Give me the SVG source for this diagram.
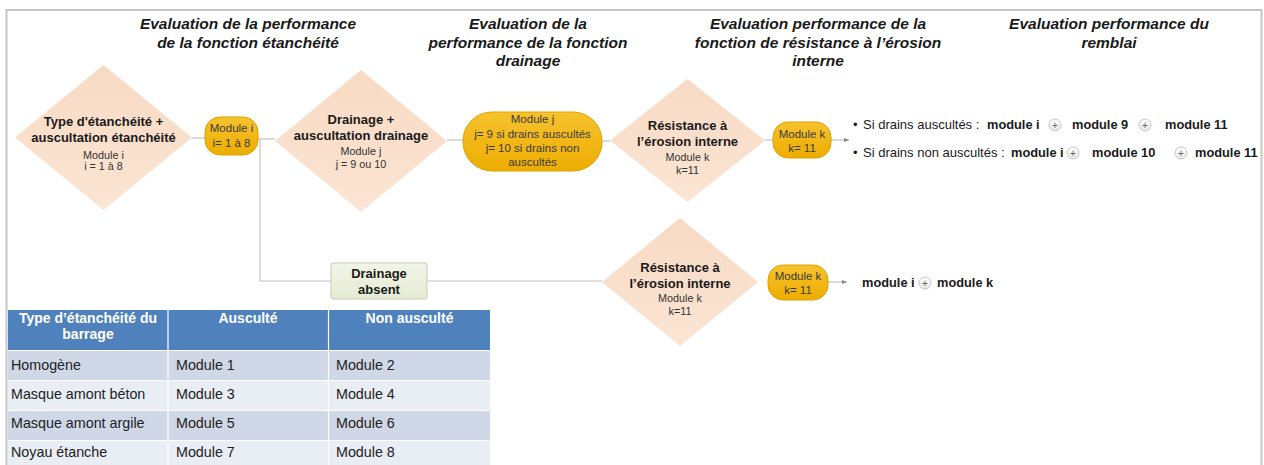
<svg xmlns="http://www.w3.org/2000/svg" width="1264" height="465" viewBox="0 0 1264 465">
<defs>
<style>
text{font-family:"Liberation Sans",Arial,sans-serif;}
.title{font-size:15.5px;font-weight:bold;font-style:italic;fill:#1a1a1a;text-anchor:middle;}
.db{font-size:13px;font-weight:bold;fill:#1a1a1a;text-anchor:middle;}
.ds{font-size:10.8px;fill:#333;text-anchor:middle;}
.mt{font-size:11.5px;fill:#3a3a3a;text-anchor:middle;}
.diamond{fill:url(#peach);}
.mod{fill:url(#gold);stroke:#DCA200;stroke-width:1;}
.conn{stroke:#C4C4C4;stroke-width:1.2;fill:none;}
.res{font-size:13px;fill:#1a1a1a;}
.rb{font-size:12.8px;font-weight:bold;fill:#1a1a1a;}
.plus{fill:url(#pl);stroke:#C8C8C8;stroke-width:1;}
.pt{font-size:10px;fill:#666;text-anchor:middle;}
.th{font-size:14px;font-weight:bold;fill:#fff;text-anchor:middle;}
.td{font-size:14.3px;fill:#222;}
</style>
<linearGradient id="peach" x1="0" y1="0" x2="0" y2="1"><stop offset="0" stop-color="#F8DAC3"/><stop offset="1" stop-color="#FBE5D4"/></linearGradient>
<linearGradient id="gold" x1="0" y1="0" x2="0" y2="1"><stop offset="0" stop-color="#F6C22E"/><stop offset="1" stop-color="#EDAD00"/></linearGradient>
<linearGradient id="green" x1="0" y1="0" x2="0" y2="1"><stop offset="0" stop-color="#F2F5E8"/><stop offset="1" stop-color="#E4EBD3"/></linearGradient>
<linearGradient id="pl" x1="0" y1="0" x2="0" y2="1"><stop offset="0" stop-color="#FFFFFF"/><stop offset="1" stop-color="#E6E6E6"/></linearGradient>
<marker id="arr" markerWidth="6" markerHeight="6" refX="5" refY="3" orient="auto" markerUnits="userSpaceOnUse"><path d="M0,1 L5,3 L0,5 Z" fill="#888"/></marker>
</defs>
<rect x="0" y="0" width="1264" height="465" fill="#fff"/>
<rect id="frame" x="6.5" y="10" width="1255" height="470" fill="none" stroke="#C6C6C6" stroke-width="2"/>

<g id="titles">
<text class="title" x="248" y="29">Evaluation de la performance</text>
<text class="title" x="248" y="47.5">de la fonction étanchéité</text>
<text class="title" x="528" y="29">Evaluation de la</text>
<text class="title" x="528" y="47.5">performance de la fonction</text>
<text class="title" x="528" y="66">drainage</text>
<text class="title" x="818" y="29">Evaluation performance de la</text>
<text class="title" x="818" y="47.5">fonction de résistance à l’érosion</text>
<text class="title" x="818" y="66">interne</text>
<text class="title" x="1109" y="29">Evaluation performance du</text>
<text class="title" x="1109" y="47.5">remblai</text>
</g>

<g id="connectors">
<line class="conn" x1="192" y1="138" x2="205" y2="138"/>
<line class="conn" x1="258" y1="139" x2="275" y2="139"/>
<line class="conn" x1="447" y1="140" x2="463" y2="140"/>
<line class="conn" x1="602" y1="141" x2="610" y2="141"/>
<line class="conn" x1="765" y1="140" x2="773" y2="140"/>
<polyline class="conn" points="260,139 260,281 331,281"/>
<line class="conn" x1="427" y1="281" x2="602" y2="281"/>
<line class="conn" x1="831" y1="140" x2="849" y2="140" marker-end="url(#arr)"/>
<line class="conn" x1="828" y1="282" x2="847" y2="282" marker-end="url(#arr)"/>
</g>

<g id="d1">
<polygon class="diamond" points="103.5,65 192,137.5 103.5,210 15,137.5"/>
<text class="db" x="103.5" y="126">Type d'étanchéité +</text>
<text class="db" x="103.5" y="142">auscultation étanchéité</text>
<text class="ds" x="103.5" y="159">Module i</text>
<text class="ds" x="103.5" y="170">i = 1 à 8</text>
</g>

<g id="modi">
<rect class="mod" x="205" y="117" width="53" height="38" rx="15"/>
<text class="mt" x="231.5" y="132">Module i</text>
<text class="mt" x="231.5" y="146.5">i= 1 à 8</text>
</g>

<g id="d2">
<polygon class="diamond" points="361,70 447,141 361,212 275,141"/>
<text class="db" x="361" y="123.5">Drainage +</text>
<text class="db" x="361" y="140">auscultation drainage</text>
<text class="ds" x="361" y="155">Module j</text>
<text class="ds" x="361" y="167.5">j = 9 ou 10</text>
</g>

<g id="modj">
<rect class="mod" x="463" y="112" width="139" height="59" rx="29"/>
<text class="mt" x="532.5" y="123">Module j</text>
<text class="mt" x="532.5" y="138">j= 9 si drains auscultés</text>
<text class="mt" x="532.5" y="152">j= 10 si drains non</text>
<text class="mt" x="532.5" y="166">auscultés</text>
</g>

<g id="d3">
<polygon class="diamond" points="687.5,79 765,140.5 687.5,202 610,140.5"/>
<text class="db" x="687.5" y="130">Résistance à</text>
<text class="db" x="687.5" y="146">l’érosion interne</text>
<text class="ds" x="687.5" y="160.5">Module k</text>
<text class="ds" x="687.5" y="173.5">k=11</text>
</g>

<g id="modk1">
<rect class="mod" x="773" y="122" width="58" height="36" rx="15"/>
<text class="mt" x="802" y="138">Module k</text>
<text class="mt" x="802" y="151.5">k= 11</text>
</g>

<g id="result1">
<text class="res" x="853" y="129">•</text>
<text class="res" x="863" y="129">Si drains auscultés :</text>
<text class="rb" x="987" y="129">module i</text>
<circle class="plus" cx="1055" cy="125" r="6"/>
<text class="pt" x="1055" y="128.5">+</text>
<text class="rb" x="1072" y="129">module 9</text>
<circle class="plus" cx="1145" cy="125" r="6"/>
<text class="pt" x="1145" y="128.5">+</text>
<text class="rb" x="1165" y="129">module 11</text>
<text class="res" x="853" y="157">•</text>
<text class="res" x="863" y="157">Si drains non auscultés :</text>
<text class="rb" x="1011" y="157">module i</text>
<circle class="plus" cx="1073" cy="153" r="6"/>
<text class="pt" x="1073" y="156.5">+</text>
<text class="rb" x="1092" y="157">module 10</text>
<circle class="plus" cx="1181" cy="153" r="6"/>
<text class="pt" x="1181" y="156.5">+</text>
<text class="rb" x="1195" y="157">module 11</text>
</g>

<g id="drainage-absent">
<rect x="331" y="263" width="96" height="36" rx="2" fill="url(#green)" stroke="#C5CDB3" stroke-width="1"/>
<text class="db" x="379" y="277.5">Drainage</text>
<text class="db" x="379" y="293.5">absent</text>
</g>

<g id="d4">
<polygon class="diamond" points="680,218 758,282 680,346 602,282"/>
<text class="db" x="680" y="272">Résistance à</text>
<text class="db" x="680" y="287.5">l’érosion interne</text>
<text class="ds" x="680" y="302">Module k</text>
<text class="ds" x="680" y="315">k=11</text>
</g>

<g id="modk2">
<rect class="mod" x="768" y="265" width="60" height="35" rx="15"/>
<text class="mt" x="798" y="279.5">Module k</text>
<text class="mt" x="798" y="293.5">k= 11</text>
</g>

<g id="result2">
<text class="rb" x="862" y="287">module i</text>
<circle class="plus" cx="925" cy="283" r="6"/>
<text class="pt" x="925" y="286.5">+</text>
<text class="rb" x="937" y="287">module k</text>
</g>

<g id="table">
<rect x="8" y="310" width="482" height="40" fill="#4F81BD"/>
<rect x="8" y="351" width="482" height="29" fill="#D0D8E8"/>
<rect x="8" y="381" width="482" height="29" fill="#E9EDF4"/>
<rect x="8" y="411" width="482" height="29" fill="#D0D8E8"/>
<rect x="8" y="441" width="482" height="30" fill="#E9EDF4"/>
<line x1="168" y1="310" x2="168" y2="470" stroke="#fff" stroke-width="1.2"/>
<line x1="328.5" y1="310" x2="328.5" y2="470" stroke="#fff" stroke-width="1.2"/>
<text class="th" x="88" y="323">Type d’étanchéité du</text>
<text class="th" x="88" y="339">barrage</text>
<text class="th" x="248" y="323">Ausculté</text>
<text class="th" x="409.5" y="323">Non ausculté</text>
<text class="td" x="11" y="369.5">Homogène</text>
<text class="td" x="176" y="369.5">Module 1</text>
<text class="td" x="336" y="369.5">Module 2</text>
<text class="td" x="11" y="399">Masque amont béton</text>
<text class="td" x="176" y="399">Module 3</text>
<text class="td" x="336" y="399">Module 4</text>
<text class="td" x="11" y="428">Masque amont argile</text>
<text class="td" x="176" y="428">Module 5</text>
<text class="td" x="336" y="428">Module 6</text>
<text class="td" x="11" y="456.5">Noyau étanche</text>
<text class="td" x="176" y="456.5">Module 7</text>
<text class="td" x="336" y="456.5">Module 8</text>
</g>
</svg>
